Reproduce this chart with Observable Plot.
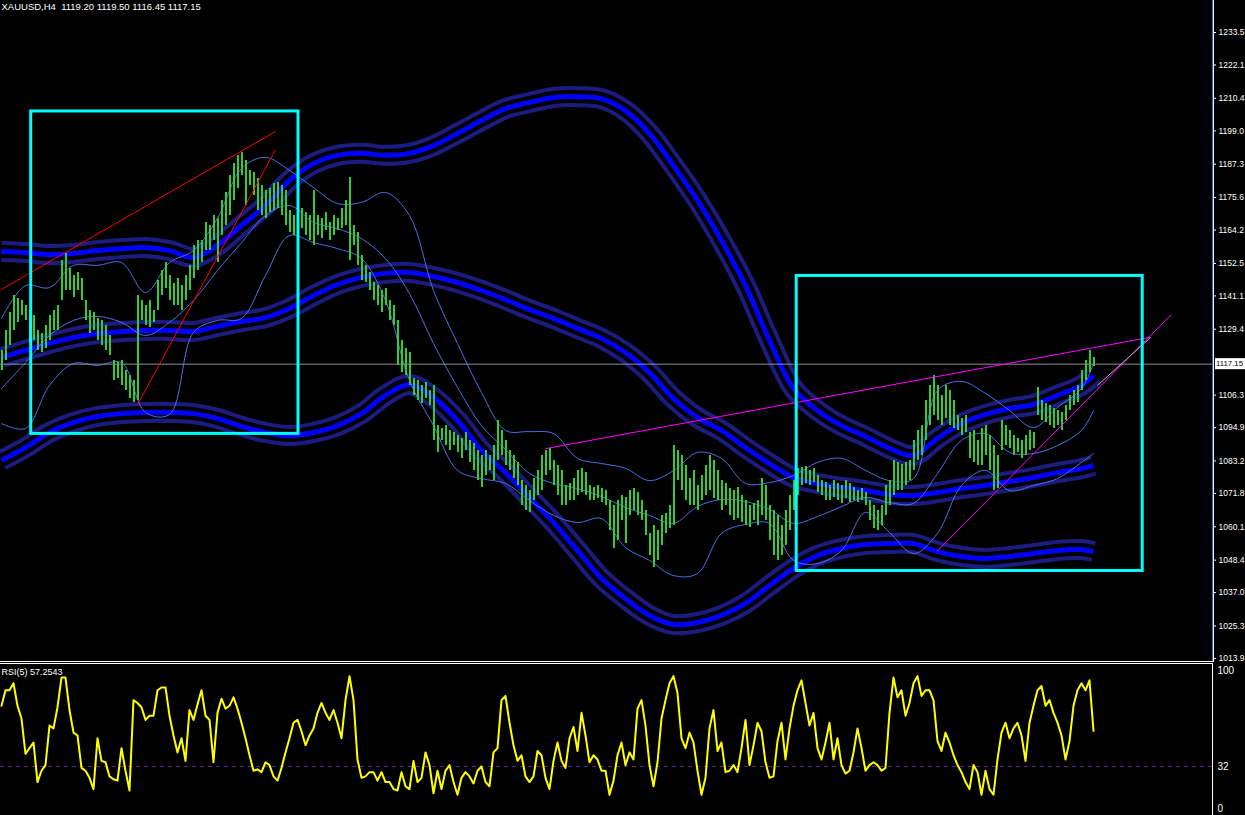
<!DOCTYPE html>
<html><head><meta charset="utf-8">
<script src="https://cdn.jsdelivr.net/npm/d3@7"></script>
<script src="https://cdn.jsdelivr.net/npm/@observablehq/plot@0.6"></script>
<style>
html,body{margin:0;padding:0;background:#000;overflow:hidden;}
#chart{width:1245px;height:815px;overflow:hidden;background:#000;}
#chart svg{display:block;}
</style></head><body><div id="chart"></div>
<script>
// ---------- data ----------
const symbol = "XAUUSD,H4";
const lastOHLC = [1119.20, 1119.50, 1116.45, 1117.15];
const priceTicks = [1233.5, 1222.1, 1210.4, 1199.0, 1187.3, 1175.6, 1164.2, 1152.5, 1141.1, 1129.4,
  1106.3, 1094.9, 1083.2, 1071.8, 1060.1, 1048.4, 1037.0, 1025.3, 1013.9];

const barHigh = [
1122.0,1129.0,1135.3,1141.2,1140.2,1139.5,1137.7,1136.0,1134.2,1129.0,
1127.9,1130.7,1134.2,1136.0,1137.7,1153.5,1156.0,1150.7,1148.3,1149.3,
1147.2,1139.5,1136.0,1135.3,1133.2,1132.5,1130.7,1127.2,1118.4,1117.7,
1118.4,1114.9,1113.2,1111.4,1141.2,1139.5,1137.7,1139.5,1136.0,1146.5,
1150.0,1152.8,1148.3,1145.5,1147.2,1144.7,1148.3,1151.8,1158.8,1160.5,
1160.5,1166.8,1165.8,1169.3,1168.2,1174.6,1177.4,1183.3,1187.5,1190.3,
1191.4,1188.6,1185.1,1184.4,1182.3,1179.8,1178.1,1178.8,1180.5,1180.9,
1179.8,1178.1,1171.1,1169.3,1172.8,1171.8,1170.4,1169.3,1178.1,1169.3,
1168.2,1170.4,1166.8,1169.3,1168.2,1171.8,1174.6,1182.6,1165.8,1163.3,
1155.3,1151.8,1149.3,1145.8,1144.7,1143.0,1143.7,1139.5,1137.7,1132.5,
1125.5,1122.7,1121.2,1112.1,1111.4,1109.7,1110.7,1107.9,1109.7,1095.6,
1094.6,1095.6,1093.9,1093.2,1092.1,1091.1,1093.2,1090.4,1089.3,1086.9,
1085.1,1086.9,1085.1,1088.6,1097.4,1093.9,1090.4,1086.9,1085.1,1082.6,
1076.3,1074.6,1072.8,1077.0,1079.8,1085.1,1086.9,1087.6,1083.4,1081.6,
1079.8,1074.6,1075.3,1077.0,1079.8,1080.5,1079.1,1074.6,1073.9,1074.6,
1073.5,1072.8,1069.3,1067.6,1069.3,1071.1,1070.4,1072.8,1073.5,1072.1,
1069.3,1065.8,1057.7,1060.5,1058.8,1064.1,1064.8,1067.6,1088.6,1086.9,
1085.1,1081.6,1077.0,1079.8,1074.6,1078.1,1081.6,1085.1,1083.4,1079.8,
1076.3,1075.3,1073.5,1072.8,1073.9,1071.1,1069.3,1067.6,1068.3,1069.3,
1077.0,1074.6,1067.6,1065.8,1064.1,1060.5,1065.8,1071.1,1076.3,1080.5,
1080.9,1081.2,1079.8,1080.5,1078.1,1076.3,1075.6,1074.6,1076.3,1075.3,
1074.6,1076.3,1075.3,1073.9,1072.8,1073.5,1072.1,1069.3,1067.6,1065.8,
1067.6,1074.6,1076.3,1083.4,1082.6,1081.9,1082.6,1083.4,1090.4,1093.9,
1095.6,1104.4,1109.7,1113.2,1109.7,1106.1,1109.7,1107.9,1104.4,1099.1,
1098.1,1099.1,1093.2,1093.9,1090.4,1094.6,1095.6,1092.1,1088.6,1085.1,
1097.4,1095.6,1093.9,1092.1,1091.1,1090.4,1092.1,1093.9,1093.2,1108.9,
1104.4,1103.3,1102.6,1101.6,1100.9,1100.2,1102.6,1106.1,1107.9,1109.7,
1114.9,1118.4,1121.9,1119.5];

const barLow = [
1114.9,1118.4,1123.7,1129.0,1131.8,1134.2,1132.5,1124.4,1125.5,1122.0,
1121.2,1122.7,1125.5,1129.0,1129.0,1139.5,1143.0,1143.0,1140.5,1143.0,
1139.5,1132.5,1127.9,1129.0,1125.5,1123.7,1122.0,1120.2,1111.4,1112.1,
1109.7,1107.9,1105.1,1103.7,1104.4,1132.5,1130.7,1130.0,1131.8,1136.0,
1141.2,1143.7,1139.5,1137.7,1137.7,1136.0,1139.5,1143.0,1147.2,1150.0,
1152.8,1157.0,1157.0,1160.5,1152.8,1162.3,1165.8,1169.3,1174.6,1178.8,
1183.3,1172.8,1179.8,1176.3,1171.1,1169.3,1168.2,1170.4,1171.1,1171.8,
1169.3,1165.8,1163.3,1162.3,1164.0,1164.7,1162.3,1160.5,1158.8,1162.3,
1161.2,1164.0,1160.5,1162.3,1164.0,1164.7,1165.8,1153.5,1158.8,1151.8,
1146.5,1145.8,1143.0,1139.5,1137.7,1135.3,1137.7,1132.5,1130.7,1116.7,
1114.2,1113.2,1109.7,1106.1,1104.4,1103.3,1105.1,1102.6,1090.4,1086.2,
1090.4,1088.6,1086.9,1088.6,1086.2,1084.1,1086.9,1082.6,1079.8,1076.3,
1073.9,1078.1,1079.8,1076.3,1083.4,1085.1,1081.6,1079.8,1077.0,1074.6,
1067.6,1065.8,1065.1,1069.3,1071.1,1072.8,1078.1,1079.8,1074.6,1071.1,
1067.6,1067.6,1069.3,1069.3,1071.1,1072.1,1071.1,1069.3,1069.3,1070.0,
1068.6,1067.6,1058.8,1052.5,1055.3,1062.3,1054.2,1064.1,1065.8,1064.1,
1062.3,1057.0,1050.0,1045.8,1048.3,1053.5,1057.7,1059.5,1060.5,1076.3,
1072.8,1069.3,1067.6,1067.6,1065.8,1069.3,1071.1,1072.8,1070.0,1069.3,
1065.8,1067.6,1064.1,1062.3,1063.0,1061.6,1060.5,1059.8,1062.3,1060.5,
1064.1,1062.3,1055.3,1050.0,1048.3,1050.0,1053.5,1058.8,1065.8,1071.1,
1074.6,1075.3,1074.6,1075.6,1072.1,1071.1,1069.3,1069.3,1070.4,1069.3,
1068.3,1070.0,1068.6,1069.3,1068.6,1069.3,1067.6,1062.3,1059.5,1058.8,
1060.5,1064.1,1067.6,1071.1,1072.8,1072.8,1074.6,1076.3,1079.8,1083.4,
1085.1,1090.4,1095.6,1099.1,1097.4,1095.6,1098.1,1095.6,1094.6,1093.9,
1092.1,1093.2,1084.1,1082.6,1081.6,1081.6,1085.1,1079.8,1072.8,1073.5,
1086.9,1088.6,1087.6,1085.1,1086.2,1084.1,1085.1,1086.9,1087.6,1099.1,
1097.4,1096.7,1095.6,1094.6,1095.6,1093.9,1097.4,1100.9,1102.6,1103.7,
1107.9,1111.4,1114.2,1116.45];

// bar indices where the band indicators are sampled
const sampleIdx = [0,6,12,18,24,30,36,42,48,54,60,66,72,78,84,90,96,102,108,114,120,126,132,138,144,
  150,156,162,168,174,180,186,192,198,204,210,216,222,228,234,240,246,252,258,264,270,273];

const envUpper = [1156.7,1156.3,1155.6,1156.0,1157.0,1157.7,1158.1,1157.0,1154.6,1158.8,
  1165.8,1172.8,1181.6,1187.5,1190.4,1191.1,1190.4,1191.1,1193.8,1198.1,
  1202.6,1206.8,1208.9,1210.7,1211.0,1210.3,1206.1,1198.1,1186.8,1174.6,
  1160.5,1144.7,1125.5,1108.6,1100.9,1095.6,1091.8,1087.6,1085.1,1091.1,
  1096.3,1099.5,1101.6,1103.0,1106.2,1109.7,1113.2];
const envMiddle = [1119.5,1122.0,1124.4,1126.5,1127.9,1128.6,1129.0,1129.0,1128.6,1130.4,
  1132.1,1133.5,1136.7,1141.2,1145.1,1147.6,1149.0,1149.3,1147.9,1145.8,
  1143.0,1139.8,1136.3,1133.2,1129.7,1126.2,1121.2,1114.2,1105.1,1098.4,
  1093.9,1087.9,1082.3,1077.4,1075.3,1073.9,1072.8,1071.4,1071.1,1072.1,
  1073.5,1074.6,1076.0,1077.4,1079.1,1080.5,1081.6];
const envLower = [1083.4,1087.9,1093.2,1096.7,1098.8,1099.8,1100.2,1100.2,1099.8,1098.1,
  1095.3,1093.2,1092.1,1093.2,1095.6,1099.8,1106.2,1110.0,1105.5,1097.4,
  1086.9,1079.1,1070.4,1061.6,1051.8,1042.0,1034.9,1029.0,1025.8,1026.5,
  1029.0,1033.2,1039.5,1045.5,1050.0,1052.5,1053.9,1054.2,1054.2,1051.4,
  1049.7,1049.0,1049.7,1050.7,1051.8,1052.1,1051.4];

const bbUpper = [1133.2,1144.7,1144.0,1151.8,1151.8,1152.8,1142.3,1152.8,1157.0,1168.3,
  1185.8,1189.7,1185.1,1179.1,1173.5,1173.9,1177.4,1169.3,1143.0,1124.4,
  1107.2,1093.9,1093.5,1092.8,1084.1,1082.3,1080.6,1076.3,1079.8,1086.2,
  1084.1,1075.3,1075.6,1078.1,1082.7,1084.1,1079.9,1076.3,1077.0,1107.9,
  1111.1,1106.9,1100.9,1094.9,1102.0,1108.6,1117.4];
const bbMiddle = [1108.6,1117.7,1127.2,1132.5,1133.9,1131.8,1127.2,1131.8,1139.5,1150.0,
  1159.8,1169.3,1172.8,1166.9,1164.7,1161.2,1154.2,1141.9,1124.4,1109.0,
  1095.6,1087.2,1078.8,1075.3,1073.5,1070.7,1066.9,1064.1,1061.3,1067.2,
  1069.7,1069.0,1066.2,1061.3,1063.7,1067.2,1070.4,1068.6,1068.3,1078.8,
  1090.4,1092.8,1086.2,1085.8,1088.6,1093.9,1100.9];
const bbLower = [1096.3,1094.6,1109.7,1117.4,1116.7,1117.7,1100.2,1099.5,1128.3,1132.5,
  1133.2,1148.3,1162.3,1159.8,1157.7,1154.2,1139.5,1111.4,1095.6,1079.9,
  1077.0,1075.3,1069.3,1064.1,1061.6,1063.0,1052.8,1048.3,1043.0,1043.7,
  1057.8,1060.9,1061.3,1048.3,1047.2,1051.8,1065.1,1058.1,1050.7,1057.8,
  1074.6,1079.9,1072.8,1074.6,1077.0,1082.7,1085.8];

// drawn objects: trend lines (bar index, price) and highlighted zones
const redTrends = [
  {i1: -0.25, p1: 1143.2, i2: 68.5, p2: 1198.8},
  {i1: 33.9, p1: 1102.6, i2: 68.5, p2: 1192.4}];
const magentaTrends = [
  {i1: 136, p1: 1087.5, i2: 287.25, p2: 1126.6},
  {i1: 233.9, p1: 1051.5, i2: 292.4, p2: 1134.5}];
const grayTrends = [
  {i1: 274, p1: 1109.7, i2: 287.25, p2: 1126.5}];
const zones = [
  {i1: 7.43, i2: 74.25, p1: 1092.7, p2: 1205.8},
  {i1: 198.8, i2: 285.3, p1: 1044.6, p2: 1148.1}];

// oscillator sub-window
const oscName = "RSI";
const oscPeriod = 5;
const oscLevels = [100, 32, 0];
const oscValues = [
75,86,86,91,75,66,41,45,49,21,
29,33,61,59,74,95,95,72,56,54,
31,29,24,16,52,36,35,25,23,22,
45,29,15,79,77,74,65,68,68,86,
88,88,68,54,42,52,36,72,65,76,
86,68,65,35,70,80,73,75,81,73,
63,52,40,29,30,28,35,33,25,22,
31,42,52,63,65,57,47,54,59,70,
77,70,65,72,63,52,79,96,79,37,
24,25,28,28,22,28,21,21,16,15,
28,18,16,36,21,24,42,33,13,29,
16,29,33,21,12,24,28,25,20,29,
32,21,18,42,45,79,82,63,47,36,
40,25,21,25,43,40,24,16,36,49,
36,31,52,60,43,70,54,35,40,37,
29,29,12,22,40,49,33,42,37,73,
79,61,33,18,35,66,79,91,96,84,
52,45,56,49,29,12,24,59,72,43,
49,28,29,33,28,45,65,33,47,63,
57,35,24,25,50,63,37,59,75,86,
93,77,61,70,45,37,49,63,37,52,
33,27,29,42,59,45,29,33,35,33,
29,31,70,95,81,86,68,77,91,96,
82,86,86,79,50,43,56,49,40,33,
28,21,16,33,28,12,29,16,12,37,
56,63,52,59,63,54,36,63,75,86,
89,75,79,70,63,54,37,50,75,86,
91,86,93,57.2543];

// ---------- build ----------
const X_DOMAIN = [-0.25, 303];
const Y_DOMAIN = [1012.49, 1244.73];
const OSC_DOMAIN = [-2.69, 105.67];
const FONT = "'Liberation Sans', Arial, sans-serif";

const bars = barHigh.map((h, i) => ({i, high: h, low: barLow[i]}));
const bands = sampleIdx.map((i, k) => ({
  i, up: envUpper[k], mid: envMiddle[k], lo: envLower[k],
  bu: bbUpper[k], bm: bbMiddle[k], bl: bbLower[k]}));

const envMarks = [];
for (const [stroke, w] of [["#1c1c80", 21], ["#000000", 13], ["#0000ff", 5]]) {
  for (const key of ["up", "mid", "lo"]) {
    envMarks.push(Plot.line(bands, {x: "i", y: key, stroke, strokeWidth: w,
      strokeLinecap: "butt", curve: "catmull-rom"}));
  }
}
const bbMarks = ["bu", "bm", "bl"].map(key =>
  Plot.line(bands, {x: "i", y: key, stroke: "#4a72e8", strokeWidth: 1, curve: "catmull-rom"}));

const titleText = symbol + "\u00a0\u00a0" + lastOHLC.map(v => v.toFixed(2)).join(" ");

const main = Plot.plot({
  width: 1245, height: 662,
  marginLeft: 0, marginRight: 32, marginTop: 0, marginBottom: 0,
  style: {background: "#000", color: "#fff", fontFamily: FONT, fontSize: "8.5px"},
  x: {domain: X_DOMAIN, axis: null},
  y: {domain: Y_DOMAIN, axis: "right", ticks: priceTicks, tickFormat: d => d.toFixed(1),
      tickSize: 2, tickPadding: 3, label: null},
  marks: [
    ...envMarks,
    ...bbMarks,
    Plot.ruleY([lastOHLC[3]], {stroke: "#8a9099", strokeWidth: 1}),
    Plot.ruleX(bars, {x: "i", y1: "low", y2: "high", stroke: "#32cd32", strokeWidth: 2, shapeRendering: "crispEdges"}),
    Plot.link(redTrends, {x1: "i1", y1: "p1", x2: "i2", y2: "p2", stroke: "#ff0000", strokeWidth: 1}),
    Plot.link(magentaTrends, {x1: "i1", y1: "p1", x2: "i2", y2: "p2", stroke: "#ff00ff", strokeWidth: 1}),
    Plot.link(grayTrends, {x1: "i1", y1: "p1", x2: "i2", y2: "p2", stroke: "#b4b4b4", strokeWidth: 1}),
    Plot.rect(zones, {x1: "i1", x2: "i2", y1: "p1", y2: "p2", fill: "none", stroke: "#00ffff", strokeWidth: 3}),
    Plot.ruleX([X_DOMAIN[1]], {stroke: "#3c5cdc", dx: -1}),
    Plot.frame({stroke: "#ffffff", insetTop: -5, insetLeft: -5, insetBottom: 1}),
    Plot.text([titleText], {frameAnchor: "top-left", dx: 1, dy: 6, textAnchor: "start",
      lineAnchor: "middle", fill: "#fff", fontSize: 9.5, text: d => d})
  ]
});

const osc = Plot.plot({
  width: 1245, height: 153,
  marginLeft: 0, marginRight: 32, marginTop: 0, marginBottom: 0,
  style: {background: "#000", color: "#fff", fontFamily: FONT, fontSize: "9px"},
  x: {domain: X_DOMAIN, axis: null},
  y: {domain: OSC_DOMAIN, axis: null},
  marks: [
    Plot.ruleY([oscLevels[1]], {stroke: "#5b2a8c", strokeDasharray: "4,4"}),
    Plot.line(oscValues, {x: (d, k) => k, y: d => d, stroke: "#ffff00", strokeWidth: 2}),
    Plot.frame({stroke: "#ffffff", insetTop: 1, insetRight: 1, insetLeft: -5, insetBottom: -5}),
    Plot.text(oscLevels.filter(v => v > 0), {y: d => d, frameAnchor: "right", dx: 4, textAnchor: "start",
      fill: "#fff", fontSize: 10, text: d => String(d)}),
    Plot.text(oscLevels.filter(v => v === 0), {y: d => d, frameAnchor: "right", dx: 4, dy: -3, textAnchor: "start",
      fill: "#fff", fontSize: 10, text: d => String(d)}),
    Plot.text([`${oscName}(${oscPeriod}) ${oscValues[oscValues.length - 1].toFixed(4)}`], {
      frameAnchor: "top-left", dx: 1, dy: 10, textAnchor: "start", lineAnchor: "middle",
      fill: "#fff", fontSize: 9, text: d => d})
  ]
});

const host = document.getElementById("chart");
host.appendChild(main);
host.appendChild(osc);

// current price marker on the price axis
const yPix = main.scale("y").apply(lastOHLC[3]);
const svg = d3.select(main);
svg.append("rect").attr("x", 1215).attr("y", yPix - 5.5).attr("width", 40).attr("height", 11).attr("fill", "#fff");
svg.append("text").attr("x", 1216).attr("y", yPix).attr("dy", "0.35em").attr("fill", "#000")
  .attr("text-anchor", "start").attr("font-size", 7.8).attr("font-family", FONT)
  .text(lastOHLC[3].toFixed(2));
</script>
</body></html>
